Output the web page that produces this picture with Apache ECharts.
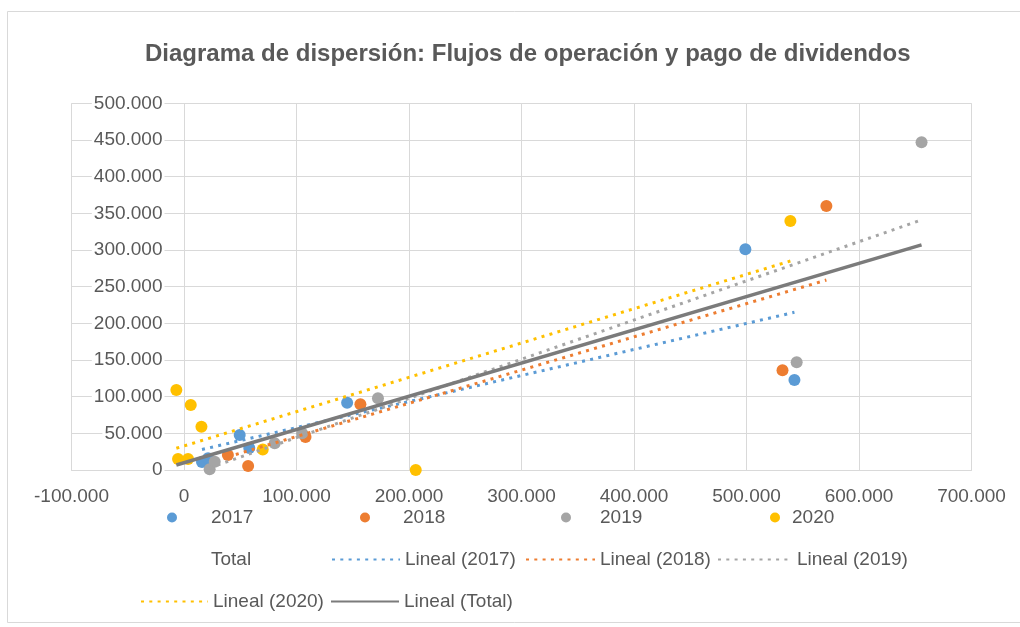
<!DOCTYPE html>
<html>
<head>
<meta charset="utf-8">
<script src="https://cdn.jsdelivr.net/npm/echarts@6/dist/echarts.min.js"></script>
<style>
html,body{margin:0;padding:0;background:#fff;}
#chart{width:1020px;height:627px;}
</style>
</head>
<body>
<div id="chart"></div>
<script>
// puntos [flujo de operacion, pago de dividendos]
var pts2017 = [[16000,11000],[21400,16000],[49500,47700],[58000,30000],[145000,91800],[499000,301000],[542600,122700]];
var pts2018 = [[39000,20500],[57000,5500],[108000,45000],[156800,89600],[532000,136000],[571000,360000]];
var pts2019 = [[22800,1000],[27300,11400],[80600,36400],[105000,50000],[172400,97800],[544600,147000],[655600,447000]];
var pts2020 = [[-6800,109000],[6000,88600],[15500,59000],[-5300,15000],[3600,15000],[70000,28000],[206000,0],[539000,339500]];

// lineas de tendencia (extremos leidos)
var lin2017 = [[16000,28000],[542600,215000]];
var lin2018 = [[39000,18000],[571000,259000]];
var lin2019 = [[22800,3000],[655600,341000]];
var lin2020 = [[-6800,29600],[539000,285000]];
var linTotal = [[-6800,6800],[655600,307000]];

var years = ['2017','2018','2019','2020'];
var colors = ['#5B9BD5','#ED7D31','#A5A5A5','#FFC000'];
var totalColor = '#7b7b7b';

var font = 'Liberation Sans, Arial, sans-serif';
var txt = '#595959';

function miles(v){
    return String(v).replace(/\B(?=(\d{3})+(?!\d))/g, '.');
}

var chart = echarts.init(document.getElementById('chart'));

var allPts = pts2017.concat(pts2018, pts2019, pts2020);

function dotLine(name, data, color){
    return {
        name: name, type: 'line', data: data, symbol: 'none', z: 4,
        lineStyle: {color: color, width: 3, type: [3, 5.3]},
        itemStyle: {color: color},
        silent: true
    };
}

function leg(name, left, top, opts){
    var l = {
        data: [name], left: left, top: top, padding: 0,
        itemWidth: 10, itemHeight: 10,
        selectedMode: false,
        textStyle: {fontFamily: font, fontSize: 19, color: txt}
    };
    for (var k in opts) l[k] = opts[k];
    return l;
}
// leyenda de linea sin el circulo
function legLine(name, left, top, w){
    return leg(name, left, top, {
        data: [{name: name, itemStyle: {opacity: 0}}],
        itemWidth: w, itemHeight: 14
    });
}
function legPad(p){
    return {textStyle: {fontFamily: font, fontSize: 19, color: txt, padding: [0, 0, 0, p]}};
}

var option = {
    backgroundColor: '#fff',
    animation: false,
    title: {
        text: 'Diagrama de dispersión: Flujos de operación y pago de dividendos',
        left: 140, top: 37,
        textStyle: {fontFamily: font, fontSize: 24, fontWeight: 'bold', color: txt}
    },
    graphic: [{
        type: 'rect', silent: true,
        shape: {x: 7.5, y: 11.5, width: 1100, height: 611},
        style: {fill: 'none', stroke: '#d9d9d9', lineWidth: 1}
    }],
    grid: {left: 71.5, right: 48.5, top: 103.3, bottom: 157, outerBoundsMode: 'none'},
    xAxis: {
        type: 'value', min: -100000, max: 700000, interval: 100000,
        axisLine: {show: true, onZero: false, lineStyle: {color: '#d9d9d9'}},
        axisTick: {show: false},
        splitLine: {show: true, lineStyle: {color: '#d9d9d9'}},
        axisLabel: {margin: 17, fontFamily: font, fontSize: 19, color: txt, formatter: miles}
    },
    yAxis: {
        type: 'value', min: 0, max: 500000, interval: 50000,
        axisLine: {show: false},
        axisTick: {show: false},
        splitLine: {show: true, lineStyle: {color: '#d9d9d9'}},
        // etiquetas junto al eje vertical en x = 0
        axisLabel: {margin: -93, align: 'right', fontFamily: font, fontSize: 19, color: txt, formatter: miles,
            backgroundColor: '#fff', padding: [0, 2]}
    },
    legend: [
        leg('2017', 167, 508, legPad(29)),
        leg('2018', 360, 508, legPad(28)),
        leg('2019', 561, 508, legPad(24)),
        leg('2020', 770, 508, legPad(7)),
        leg('Total', 196, 550, {data: [{name: 'Total', icon: 'rect', itemStyle: {opacity: 0}}]}),
        legLine('Lineal (2017)', 331, 550, 68),
        legLine('Lineal (2018)', 525, 550, 69),
        legLine('Lineal (2019)', 717, 550, 74),
        legLine('Lineal (2020)', 140, 592, 67),
        legLine('Lineal (Total)', 330, 592, 68)
    ],
    series: years.map(function (y, i) {
        return {
            name: y, type: 'scatter', symbolSize: 12, z: 2,
            data: [pts2017, pts2018, pts2019, pts2020][i],
            itemStyle: {color: colors[i], opacity: 1}
        };
    }).concat([
        {name: 'Total', type: 'scatter', symbolSize: 0, data: allPts, itemStyle: {color: totalColor, opacity: 0}, silent: true},
        dotLine('Lineal (2017)', lin2017, colors[0]),
        dotLine('Lineal (2018)', lin2018, colors[1]),
        dotLine('Lineal (2019)', lin2019, colors[2]),
        dotLine('Lineal (2020)', lin2020, colors[3]),
        {
            name: 'Lineal (Total)', type: 'line', data: linTotal, symbol: 'none', z: 5, silent: true,
            lineStyle: {color: totalColor, width: 3.5},
            itemStyle: {color: totalColor}
        }
    ])
};
chart.setOption(option);
</script>
</body>
</html>
